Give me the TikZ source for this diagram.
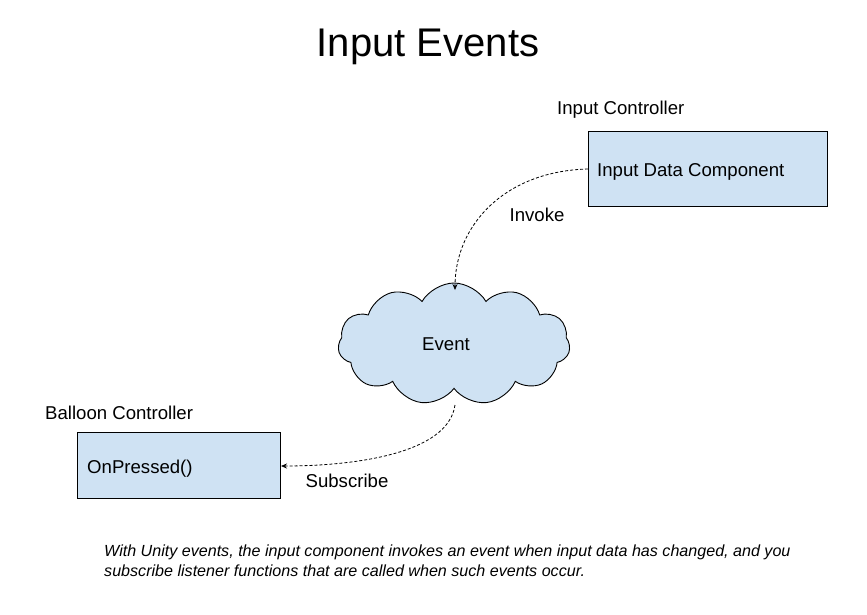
\documentclass[tikz,border=0pt]{standalone}
\usepackage{fontspec}
\setmainfont{Liberation Sans}
\usetikzlibrary{shapes.symbols,arrows.meta}
\definecolor{boxblue}{HTML}{CFE2F3}
\tikzset{
  lbl/.style={font=\fontsize{18.6}{22}\selectfont, inner sep=0pt},
  compbox/.style={draw=black, fill=boxblue, line width=0.9pt, inner sep=0pt},
  conn/.style={densely dashed, line width=0.8pt, -{Stealth[length=6pt,width=5pt]}},
}
\begin{document}
\begin{tikzpicture}[x=1pt,y=-1pt]
\useasboundingbox (0,0) rectangle (867,614);
\node[font=\fontsize{40}{44}\selectfont, inner sep=0pt] (title) at (428,47) {Input Events};
\node[lbl, anchor=west] (iclbl) at (557,110) {Input Controller};
\node[compbox, minimum width=239pt, minimum height=75pt] (idc) at (707.5,168.5) {};
\node[lbl, anchor=west] (idctext) at (597,172) {Input Data Component};
\node[cloud, cloud puffs=11, cloud puff arc=120, aspect=2.2, draw=black, fill=boxblue, line width=0.9pt, minimum width=232pt, minimum height=122pt, inner sep=0pt] (event) at (454,344) {};
\node[lbl] (eventtext) at (446,344) {Event};
\node[lbl, anchor=west] (bclbl) at (45,413) {Balloon Controller};
\node[compbox, minimum width=203pt, minimum height=66pt] (onp) at (178.5,465) {};
\node[lbl, anchor=west] (onptext) at (87,469) {OnPressed()};
\node[lbl] (invoke) at (537,215) {Invoke};
\node[lbl] (subscribe) at (347,481) {Subscribe};
\coordinate (a1) at (588,169);
\coordinate (a2) at (455,290);
\coordinate (b1) at (455,405);
\coordinate (b2) at (281,466);
\draw[conn] (a1) .. controls (505,171) and (455,225) .. (a2);
\draw[conn] (b1) .. controls (448,455) and (350,466) .. (b2);
\node[font=\fontsize{16.1}{20}\selectfont\itshape, anchor=north west, align=left, inner sep=0pt] (caption) at (104,545) {With Unity events, the input component invokes an event when input data has changed, and you\\subscribe listener functions that are called when such events occur.};
\end{tikzpicture}
\end{document}
